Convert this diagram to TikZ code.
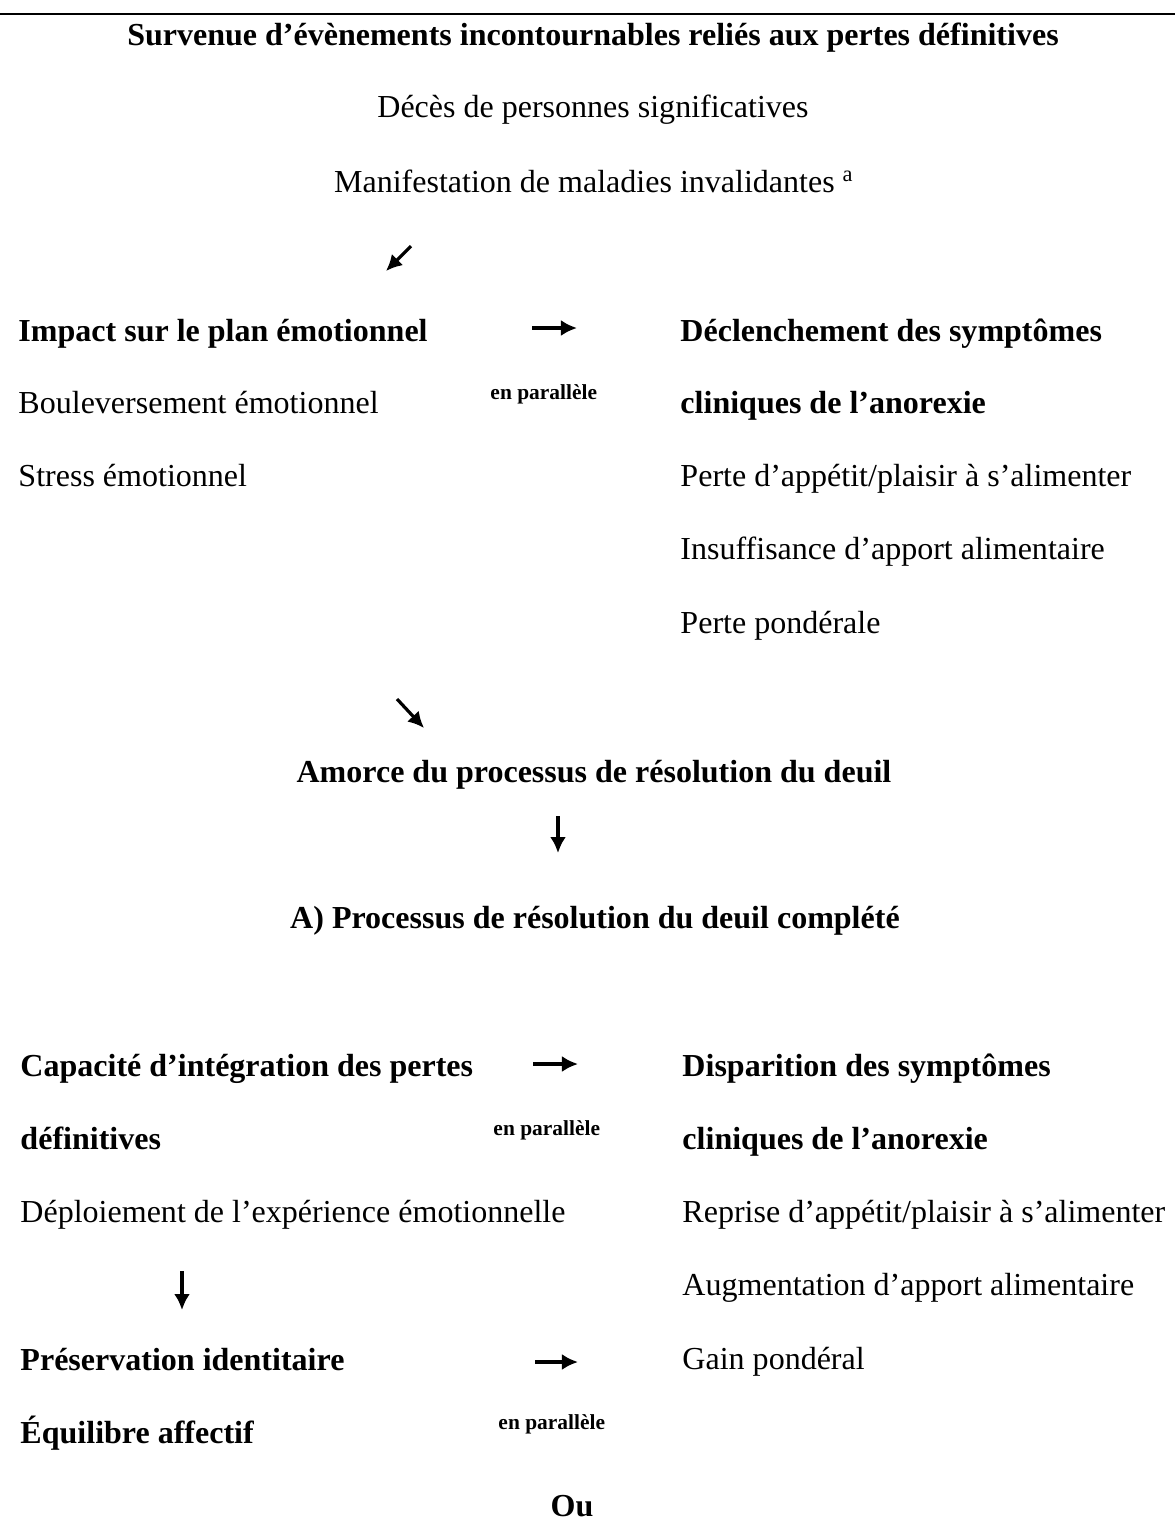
\documentclass[tikz,border=0pt]{standalone}
\usepackage{fontspec}
\setmainfont{Liberation Serif}
\usetikzlibrary{arrows.meta}

\tikzset{
	txt/.style={anchor=base west, inner sep=0pt, font=\fontsize{13}{15}\selectfont},
	head/.style={txt, font=\fontsize{13}{15}\selectfont\bfseries},
	headc/.style={head, anchor=base},
	txtc/.style={txt, anchor=base},
	par/.style={anchor=base west, inner sep=0pt, font=\fontsize{8.7}{10}\selectfont\bfseries},
	flow/.style={->, line width=1.3pt}
}

\begin{document}
\begin{tikzpicture}[x=0.406pt, y=-0.406pt, >={Latex[length=6.5pt,width=6.5pt]}]
		%\draw [thin, help lines] (0,0) grid (1175,1536);
		\useasboundingbox (0,0) rectangle (1175,1536);
		\draw[line width=1.2pt] (0,14) -- (1175,14);
		% top
		\node[headc] (surv) at (593,45) {Survenue d’évènements incontournables reliés aux pertes définitives};
		\node[txtc] (deces) at (593,117) {Décès de personnes significatives};
		\node[txtc] (manif) at (594,192) {Manifestation de maladies invalidantes \textsuperscript{a}};
		\coordinate (sw1) at (411,246);
		\coordinate (sw2) at (386,271);
		\draw[flow] (sw1) -- (sw2);
		% impact
		\node[head] (impact) at (18,341) {Impact sur le plan émotionnel};
		\node[txt] (boul) at (18,413) {Bouleversement émotionnel};
		\node[txt] (stress) at (18,486) {Stress émotionnel};
		\coordinate (r1a) at (532,328);
		\coordinate (r1b) at (577,328);
		\draw[flow] (r1a) -- (r1b);
		\node[par] (par1) at (490,399) {en parallèle};
		\node[head] (decl) at (680,341) {Déclenchement des symptômes};
		\node[head] (clin1) at (680,413) {cliniques de l’anorexie};
		\node[txt] (perte) at (680,486) {Perte d’appétit/plaisir à s’alimenter};
		\node[txt] (insuf) at (680,559) {Insuffisance d’apport alimentaire};
		\node[txt] (pond) at (680,633) {Perte pondérale};
		\coordinate (se1) at (397,699);
		\coordinate (se2) at (424,728);
		\draw[flow] (se1) -- (se2);
		% deuil
		\node[headc] (amorce) at (594,782) {Amorce du processus de résolution du deuil};
		\coordinate (d1a) at (558,816);
		\coordinate (d1b) at (558,853);
		\draw[flow] (d1a) -- (d1b);
		\node[headc] (compl) at (595,928) {A) Processus de résolution du deuil complété};
		% integration
		\node[head] (capa) at (20,1076) {Capacité d’intégration des pertes};
		\node[head] (defin) at (20,1149) {définitives};
		\node[txt] (deploi) at (20,1222) {Déploiement de l’expérience émotionnelle};
		\coordinate (r2a) at (533,1064);
		\coordinate (r2b) at (578,1064);
		\draw[flow] (r2a) -- (r2b);
		\node[par] (par2) at (493,1135) {en parallèle};
		\node[head] (disp) at (682,1076) {Disparition des symptômes};
		\node[head] (clin2) at (682,1149) {cliniques de l’anorexie};
		\node[txt] (repr) at (682,1222) {Reprise d’appétit/plaisir à s’alimenter};
		\node[txt] (augm) at (682,1295) {Augmentation d’apport alimentaire};
		\node[txt] (gain) at (682,1369) {Gain pondéral};
		\coordinate (d2a) at (182,1271);
		\coordinate (d2b) at (182,1310);
		\draw[flow] (d2a) -- (d2b);
		\node[head] (pres) at (20,1370) {Préservation identitaire};
		\node[head] (equi) at (20,1443) {Équilibre affectif};
		\coordinate (r3a) at (535,1362);
		\coordinate (r3b) at (578,1362);
		\draw[flow] (r3a) -- (r3b);
		\node[par] (par3) at (498,1429) {en parallèle};
		\node[headc] (ou) at (572,1516) {Ou};
	\end{tikzpicture}
\end{document}
